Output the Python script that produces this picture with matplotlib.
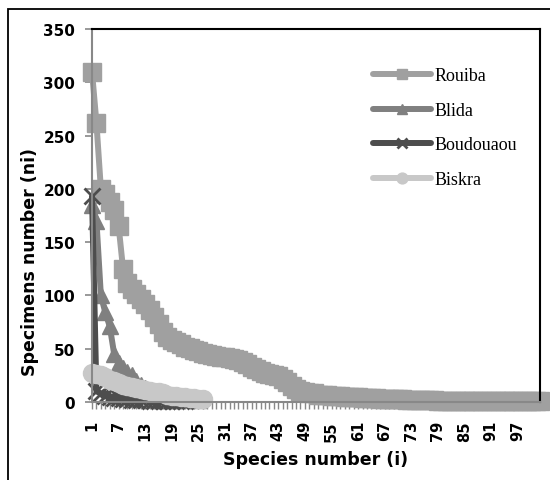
import matplotlib
matplotlib.use('Agg')
import matplotlib.pyplot as plt
from matplotlib.patches import Rectangle

# values
rouiba = [310, 262, 200, 195, 188, 180, 165, 125, 112, 106,
          101, 97, 92, 86, 80, 73, 66, 61, 58, 56,
          54, 52, 51, 49, 48, 46, 45, 44, 43, 42,
          42, 41, 40, 39, 38, 36, 33, 31, 29, 27,
          26, 25, 24, 22, 19, 15, 12, 10, 9, 8,
          8, 7, 7, 7, 6, 6, 6, 5, 5, 5,
          5, 4, 4, 4, 4, 3, 3, 3, 3, 3,
          3, 2, 2, 2, 2, 2, 2, 2, 1, 1,
          1, 1, 1, 1, 1, 1, 1, 1, 1, 1,
          1, 1, 1, 1, 1, 1, 1, 1, 1, 1, 1, 1]
blida = [185, 170, 100, 84, 71, 45, 37, 32, 28, 25, 20, 16, 13, 11, 9,
         8, 7, 6, 5, 5, 4, 4, 3, 3, 2]
boudouaou = [193, 10, 8, 6, 5, 4, 4, 3, 3, 2, 2, 2, 2, 1, 1, 1, 1, 1, 1,
             1, 1, 1]
biskra = [27, 26, 25, 23, 21, 20, 18, 16, 15, 14, 13, 12, 11, 10, 9, 9,
          8, 7, 6, 6, 5, 5, 4, 4, 3, 3]

names = ['Rouiba', 'Blida', 'Boudouaou', 'Biskra']
series = [rouiba, blida, boudouaou, biskra]
colors = ['#a0a0a0', '#808080', '#4d4d4d', '#c8c8c8']
markers = ['s', '^', 'x', 'o']
msizes = [13, 12, 12, 13]

n_cat = len(rouiba)
xlabels = [str(i) if (i - 1) % 6 == 0 else '' for i in range(1, n_cat + 1)]

fig = plt.figure(figsize=(5.5, 4.81), dpi=100)
W, H = 550, 481
ax = fig.add_axes([92 / W, 1 - 403 / H, 448 / W, 373 / H])

# outer chart border (cut off at right and bottom)
fig.patches.append(Rectangle((8 / W, -0.1), 1.2, 1 - 10 / H + 0.1,
                             transform=fig.transFigure, fill=False,
                             edgecolor='black', linewidth=1.3))

for name, vals, c, m, ms in zip(names, series, colors, markers, msizes):
    x = list(range(1, len(vals) + 1))
    ax.plot(x, vals, color=c, linewidth=4.3, marker=m, markersize=ms,
            markeredgecolor=c, markeredgewidth=2 if m == 'x' else 1,
            label=name, clip_on=False, solid_capstyle='round',
            solid_joinstyle='round')

ax.set_xlim(1, n_cat)
ax.set_ylim(0, 350)
ax.set_yticks(range(0, 351, 50))
ax.set_xticks(range(1, n_cat + 1))
ax.set_xticklabels(xlabels, rotation=90, fontsize=10.5, fontweight='heavy')
for lab in ax.get_yticklabels():
    lab.set_fontsize(11)
    lab.set_fontweight('heavy')

ax.tick_params(axis='y', direction='out', length=5, width=1.2,
               color='#888888', pad=7)
ax.tick_params(axis='x', direction='out', length=5, width=1,
               color='#888888', pad=8)
ax.spines['left'].set_color('#888888')
ax.spines['bottom'].set_color('#888888')
ax.spines['left'].set_linewidth(1.5)
ax.spines['bottom'].set_linewidth(1.5)
ax.spines['top'].set_linewidth(1.5)
ax.spines['right'].set_linewidth(1.5)

fig.text(316 / W, 1 - 460 / H, 'Species number (i)', ha='center',
         va='center', fontsize=12.5, fontweight='heavy')
fig.text(30 / W, 1 - 262 / H, 'Specimens number (ni)', ha='center',
         va='center', rotation=90, fontsize=12.5, fontweight='heavy')

ax.legend(loc='upper left', bbox_to_anchor=(0.627, 0.897), frameon=False,
          prop={'family': 'Liberation Serif', 'size': 13},
          handlelength=3.2, handletextpad=0.2, labelspacing=0.97,
          markerscale=0.6, borderpad=0, borderaxespad=0)

fig.savefig('out.png', dpi=100)
